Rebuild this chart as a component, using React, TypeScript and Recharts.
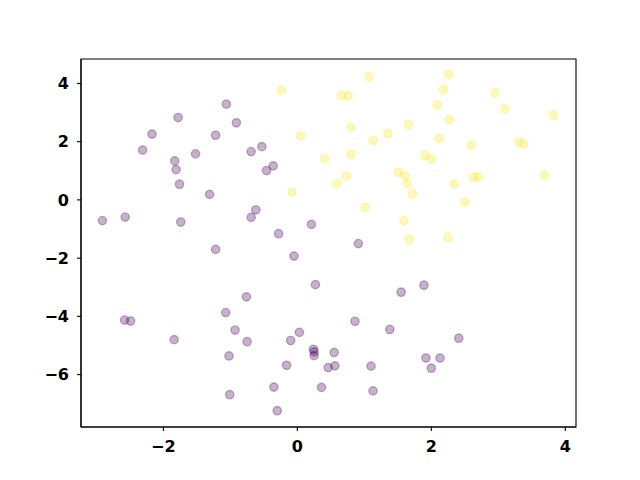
import { ScatterChart, Scatter, XAxis, YAxis, ReferenceArea } from 'recharts';

// class 0 (dark purple)
const purpleX = [
  -1.06, -1.78, -0.91, -2.17, -1.22, -2.31, -1.52, -0.69, -1.83, -1.81, -1.76, -1.31, -2.91, -2.57, -1.74, -0.69, -1.22,
  -0.53, -0.36, -0.46, -0.62, 0.21, -0.28, 0.91,
  -0.76, -1.07, -2.58, -2.49, -0.93, -1.84, -0.75, -1.02, -1.01,
  -0.05, 0.27, 1.55, 0.86, 1.38, 0.03, -0.1, 0.24, 0.25, 0.25, 0.55, -0.16, 0.46, 0.56, 1.1, -0.35, 0.36, 1.13, -0.3,
  1.89, 2.41, 1.92, 2.13, 2.0,
];
const purpleY = [
  3.29, 2.83, 2.65, 2.26, 2.22, 1.71, 1.58, 1.66, 1.34, 1.04, 0.54, 0.19, -0.71, -0.59, -0.76, -0.6, -1.7,
  1.83, 1.17, 1.01, -0.34, -0.84, -1.16, -1.5,
  -3.33, -3.87, -4.13, -4.16, -4.47, -4.8, -4.87, -5.36, -6.69,
  -1.93, -2.91, -3.17, -4.17, -4.45, -4.55, -4.83, -5.13, -5.22, -5.35, -5.24, -5.68, -5.76, -5.7, -5.71, -6.43, -6.44, -6.56, -7.24,
  -2.93, -4.75, -5.43, -5.43, -5.78,
];

// class 1 (yellow)
const yellowX = [
  1.07, -0.24, 0.66, 0.76, 0.8, 1.66, 0.05, 1.35, 1.13, 0.41, 0.8, 1.51, 1.61, 1.64, 1.72, 0.73, 0.59, -0.08, 1.01, 1.59, 1.67,
  2.26, 2.18, 2.95, 2.09, 3.1, 3.82, 2.27, 2.12, 2.6, 3.31, 3.38, 1.9, 2.0, 2.63, 2.7, 3.69, 2.34, 2.5, 2.25,
];
const yellowY = [
  4.23, 3.77, 3.59, 3.57, 2.49, 2.58, 2.19, 2.28, 2.04, 1.42, 1.56, 0.95, 0.82, 0.55, 0.21, 0.82, 0.55, 0.27, -0.25, -0.71, -1.35,
  4.32, 3.8, 3.68, 3.26, 3.13, 2.91, 2.76, 2.12, 1.88, 1.97, 1.92, 1.53, 1.4, 0.78, 0.79, 0.84, 0.54, -0.07, -1.29,
];

const xTicks = [-2, 0, 2, 4];
const yTicks = [-6, -4, -2, 0, 2, 4];
const xDomain = [-3.23, 4.16];
const yDomain = [-7.8, 4.84];

const zip = (xs: number[], ys: number[]) => xs.map((x, i) => ({ x, y: ys[i] }));
const purpleData = zip(purpleX, purpleY);
const yellowData = zip(yellowX, yellowY);

const fmt = (v: number) => String(v).replace('-', '\u2212');
const tickStyle = { fill: '#000', fontSize: 16, fontWeight: 700, fontFamily: '"DejaVu Sans", sans-serif' };

function dot(color: string) {
  return (p: any) => (
    <circle
      cx={p.cx}
      cy={p.cy}
      r={4.17}
      fill={color}
      fillOpacity={0.3}
      stroke={color}
      strokeOpacity={0.3}
      strokeWidth={1.4}
    />
  );
}

export default function App() {
  return (
    <div style={{ position: 'absolute', left: 0, top: 0, background: '#fff' }}>
      <ScatterChart width={640} height={480} margin={{ top: 59, right: 64, bottom: 0, left: 0 }}>
        <XAxis
          type="number"
          dataKey="x"
          domain={xDomain}
          ticks={xTicks}
          allowDataOverflow
          height={53}
          tickSize={4}
          tickMargin={10}
          tickFormatter={fmt}
          tick={tickStyle}
          stroke="#000"
          strokeWidth={1.1}
        />
        <YAxis
          type="number"
          dataKey="y"
          domain={yDomain}
          ticks={yTicks}
          allowDataOverflow
          width={81}
          tickSize={4}
          tickMargin={8}
          tickFormatter={fmt}
          tick={tickStyle}
          stroke="#000"
          strokeWidth={1.1}
        />
        <ReferenceArea
          x1={xDomain[0]}
          x2={xDomain[1]}
          y1={yDomain[0]}
          y2={yDomain[1]}
          fill="none"
          stroke="#000"
          strokeWidth={1.1}
          strokeOpacity={1}
        />
        <Scatter data={purpleData} shape={dot('#440154')} isAnimationActive={false} />
        <Scatter data={yellowData} shape={dot('#fde725')} isAnimationActive={false} />
      </ScatterChart>
    </div>
  );
}
